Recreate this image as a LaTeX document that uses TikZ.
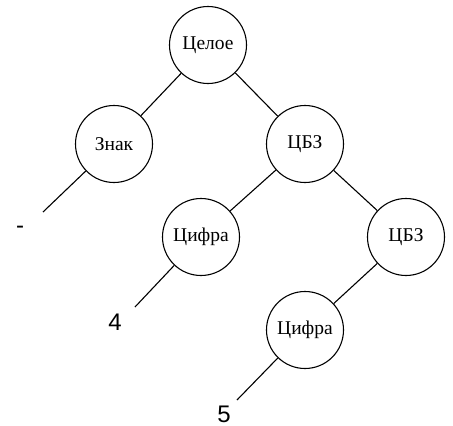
\documentclass[tikz,border=0pt]{standalone}
\usepackage{fontspec}
\setmainfont{Liberation Serif}
\setsansfont{Liberation Sans}
\usepackage{tikz}
\definecolor{TRink}{RGB}{0,0,0}
\definecolor{TRbg}{RGB}{255,255,255}
\tikzset{
  vertex/.style={circle,draw=TRink,line width=1.1pt,fill=TRbg,
                 minimum size=77pt,inner sep=0pt,text=TRink,
                 font=\fontsize{19.5}{22}\selectfont},
  branch/.style={line width=1.1pt,draw=TRink},
  leaf/.style={font=\sffamily\fontsize{24}{26}\selectfont,text=TRink,inner sep=0pt}
}

\begin{document}
\begin{tikzpicture}[x=1pt,y=-1pt]
  \useasboundingbox[fill=TRbg] (0,0) rectangle (453,426);
  % grammar tree of an integer
  \node[vertex] (whole) at (208,45) {Целое};
  \node[vertex] (sign) at (114,144) {Знак};
  \node[vertex] (ubz) at (305,144) {ЦБЗ};
  \node[vertex] (digA) at (201,237) {Цифра};
  \node[vertex] (ubzB) at (406,237) {ЦБЗ};
  \node[vertex] (digB) at (305,330) {Цифра};
  % terminals
  \coordinate (signend) at (43,212);
  \coordinate (digAend) at (135,307);
  \coordinate (digBend) at (237,400);
  \node[leaf] (minus) at (20,230) {-};
  \node[leaf] (four) at (115,322) {4};
  \node[leaf] (five) at (224,414) {5};
  \draw[branch] (whole) -- (sign);
  \draw[branch] (whole) -- (ubz);
  \draw[branch] (ubz) -- (digA);
  \draw[branch] (ubz) -- (ubzB);
  \draw[branch] (ubzB) -- (digB);
  \draw[branch] (sign) -- (signend);
  \draw[branch] (digA) -- (digAend);
  \draw[branch] (digB) -- (digBend);
\end{tikzpicture}
\end{document}
